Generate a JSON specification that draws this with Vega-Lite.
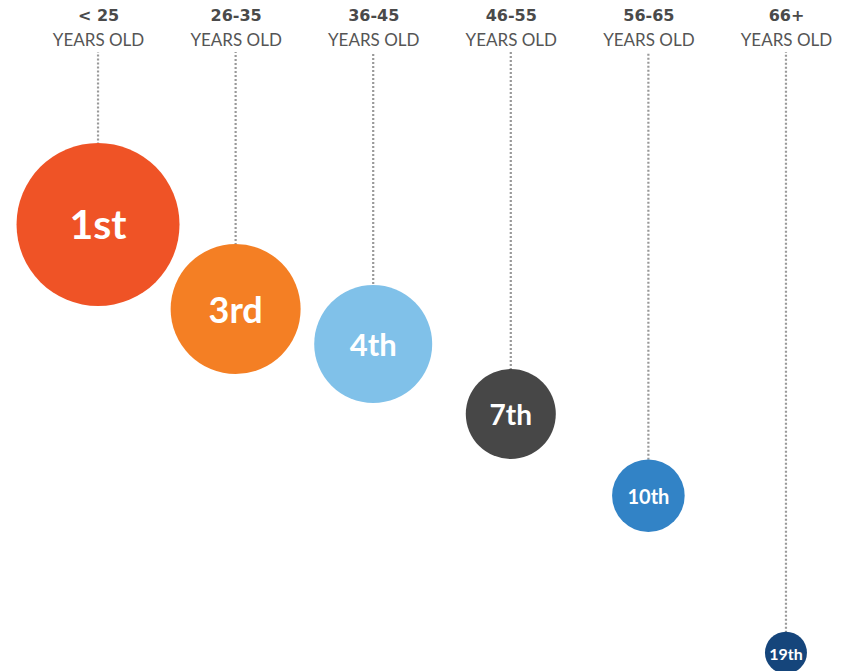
{
  "$schema": "https://vega.github.io/schema/vega-lite/v6.json",
  "width": 798,
  "height": 619,
  "autosize": {"type": "none"},
  "padding": {"left": 43, "top": 52, "right": 0, "bottom": 0},
  "background": "white",
  "config": {"view": {"stroke": null}},
  "data": {
    "values": [
      {"age": "< 25", "rank": 1, "label": "1st"},
      {"age": "26-35", "rank": 3, "label": "3rd"},
      {"age": "36-45", "rank": 4, "label": "4th"},
      {"age": "46-55", "rank": 7, "label": "7th"},
      {"age": "56-65", "rank": 10, "label": "10th"},
      {"age": "66+", "rank": 19, "label": "19th"}
    ]
  },
  "layer": [
    {
      "mark": {"type": "rule", "stroke": "#999999", "strokeWidth": 2.2, "strokeDash": [2, 2]},
      "encoding": {
        "x": {"field": "age", "type": "nominal", "sort": null,
          "scale": {"type": "point", "padding": 0.4},
          "axis": {"orient": "top", "title": null, "domain": false, "ticks": false, "grid": false,
            "labelPadding": 28.5, "labelFont": "DejaVu Sans", "labelFontSize": 16, "labelFontWeight": "bold",
            "labelColor": "#4a4a4a", "labelAngle": 0, "labelOverlap": false}},
        "y": {"field": "rank", "type": "quantitative",
          "scale": {"domain": [0, 1, 3, 4, 7, 10, 19], "range": [0, 172.5, 257, 292, 362, 443.7, 600.7], "nice": false, "zero": false},
          "axis": null},
        "y2": {"datum": 0}
      }
    },
    {
      "mark": {"type": "point", "shape": "circle", "filled": true, "opacity": 1},
      "encoding": {
        "x": {"field": "age", "type": "nominal", "sort": null,
          "scale": {"type": "point", "padding": 0.4},
          "axis": {"orient": "top", "title": null, "domain": false, "ticks": false, "grid": false,
            "labelPadding": 3, "labelFont": "Lato", "labelFontSize": 17, "labelFontWeight": "normal",
            "labelColor": "#555555", "labelAngle": 0, "labelOverlap": false, "labelExpr": "'YEARS OLD'"}},
        "y": {"field": "rank", "type": "quantitative"},
        "size": {"field": "rank", "type": "quantitative",
          "scale": {"domain": [1, 3, 4, 7, 10, 19], "range": [26569, 16900, 13924, 8100, 5271, 1764], "nice": false, "zero": false},
          "legend": null},
        "color": {"field": "age", "type": "nominal", "sort": null,
          "scale": {"domain": ["< 25", "26-35", "36-45", "46-55", "56-65", "66+"],
            "range": ["#EF5326", "#F47F24", "#80C1E9", "#474747", "#3283C6", "#15457B"]},
          "legend": null}
      }
    },
    {
      "mark": {"type": "text", "font": "Lato", "fontWeight": "bold", "color": "white", "baseline": "middle", "align": "center", "dy": 2.5},
      "encoding": {
        "x": {"field": "age", "type": "nominal", "sort": null,
          "scale": {"type": "point", "padding": 0.4}, "axis": null},
        "y": {"field": "rank", "type": "quantitative"},
        "text": {"field": "label"},
        "size": {"field": "rank", "type": "quantitative",
          "scale": {"domain": [1, 3, 4, 7, 10, 19], "range": [41, 36, 31, 28, 20, 16], "nice": false, "zero": false},
          "legend": null}
      }
    }
  ],
  "resolve": {"scale": {"x": "independent", "size": "independent"}}
}
